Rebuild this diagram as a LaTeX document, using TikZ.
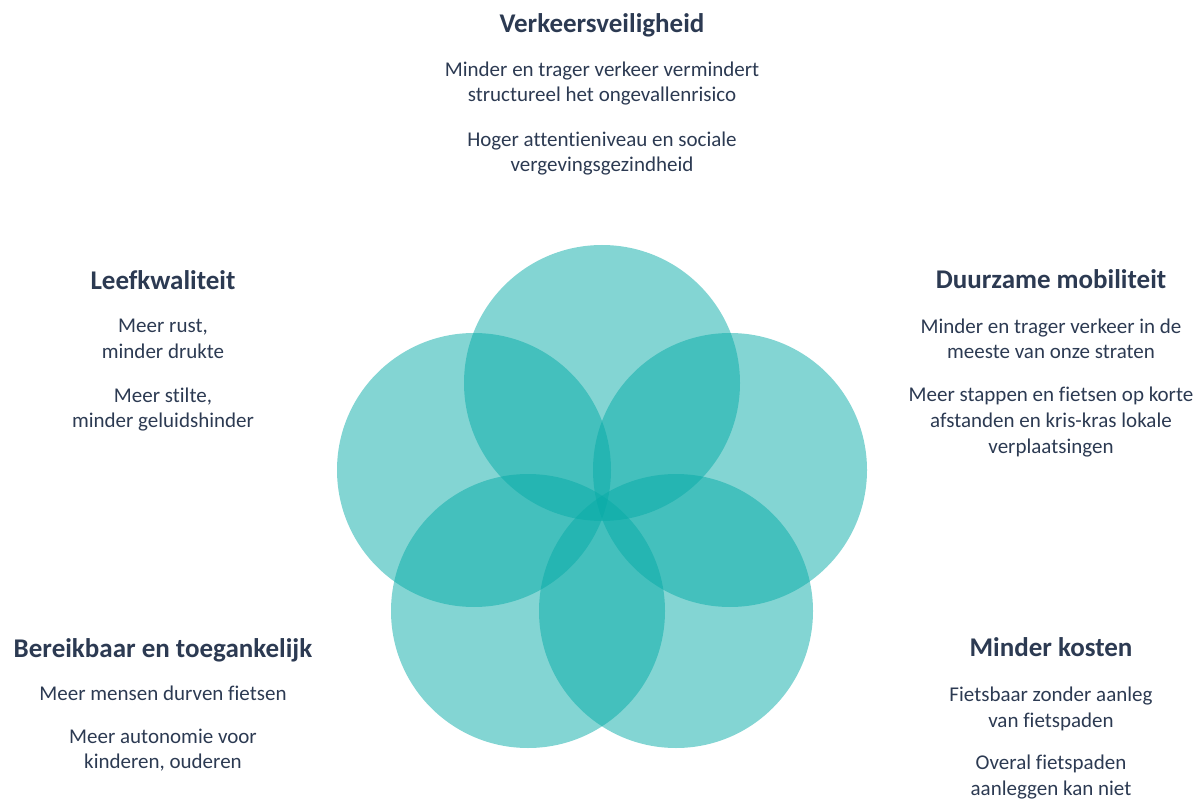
\documentclass[tikz,border=0pt]{standalone}
\usepackage{fontspec}
\setmainfont{Carlito}[Ligatures=NoCommon]
\definecolor{ink}{RGB}{44,58,82}
\definecolor{petalcol}{RGB}{7,171,167}
\begin{document}
\begin{tikzpicture}[x=1pt,y=-1pt,
  petal/.style={fill=petalcol, fill opacity=0.5, draw=none},
  head/.style={text=ink, font=\fontsize{27}{30}\selectfont\bfseries, anchor=base, inner sep=0pt},
  body/.style={text=ink, font=\fontsize{21}{25}\selectfont, anchor=base, inner sep=0pt}]
\useasboundingbox (0,0) rectangle (1197,802);
% petals
\fill[petal] (602,383) circle[radius=138];
\fill[petal] (474,470) circle[radius=137];
\fill[petal] (730,470) circle[radius=137];
\fill[petal] (528,611) circle[radius=137];
\fill[petal] (676,611) circle[radius=137];
% top block
\node[head] (th) at (602,33) {Verkeersveiligheid};
\node[body] (t1) at (602,77) {Minder en trager verkeer vermindert};
\node[body] (t2) at (602,102) {structureel het ongevallenrisico};
\node[body] (t3) at (602,147) {Hoger attentieniveau en sociale};
\node[body] (t4) at (602,172) {vergevingsgezindheid};
% left block
\node[head] (lh) at (163,290) {Leefkwaliteit};
\node[body] (l1) at (163,333) {Meer rust,};
\node[body] (l2) at (163,359) {minder drukte};
\node[body] (l3) at (163,402) {Meer stilte,};
\node[body] (l4) at (163,427) {minder geluidshinder};
% right block
\node[head] (rh) at (1051,289) {Duurzame mobiliteit};
\node[body] (r1) at (1051,334) {Minder en trager verkeer in de};
\node[body] (r2) at (1051,359) {meeste van onze straten};
\node[body] (r3) at (1051,401) {Meer stappen en fietsen op korte};
\node[body] (r4) at (1051,427) {afstanden en kris-kras lokale};
\node[body] (r5) at (1051,453) {verplaatsingen};
% bottom-left block
\node[head] (bh) at (163,657) {Bereikbaar en toegankelijk};
\node[body] (b1) at (163,700) {Meer mensen durven fietsen};
\node[body] (b2) at (163,743) {Meer autonomie voor};
\node[body] (b3) at (163,768) {kinderen, ouderen};
% bottom-right block
\node[head] (kh) at (1051,656) {Minder kosten};
\node[body] (k1) at (1051,701) {Fietsbaar zonder aanleg};
\node[body] (k2) at (1051,727) {van fietspaden};
\node[body] (k3) at (1051,769) {Overal fietspaden};
\node[body] (k4) at (1051,795) {aanleggen kan niet};
\end{tikzpicture}
\end{document}
